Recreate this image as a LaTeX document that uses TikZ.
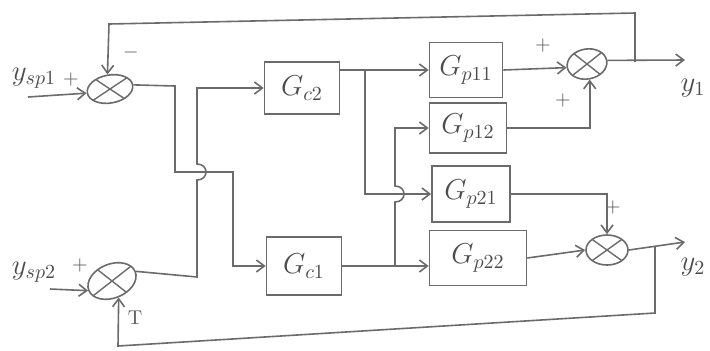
\documentclass[tikz,border=0pt]{standalone}
\usepackage{tikz}
\usetikzlibrary{positioning,arrows.meta,shapes.geometric,calc}

\begin{document}
\begin{tikzpicture}[
  x=0.5pt, y=-0.5pt,
  pen/.style={draw=black!58, line width=0.8pt},
  blk/.style={pen, rectangle, minimum width=37.5pt, minimum height=27pt, inner sep=0pt, font=\Large, text=black!70},
  sumj/.style={pen, ellipse, inner sep=0pt,
    path picture={\draw[black!58, line width=0.7pt]
      (path picture bounding box.north west) -- (path picture bounding box.south east)
      (path picture bounding box.north east) -- (path picture bounding box.south west);}},
  arr/.style={pen, -{Straight Barb[length=4pt, width=6pt]}},
  sgn/.style={font=\normalsize, text=black!65, inner sep=1pt},
  lbl/.style={font=\Large, text=black!70, inner sep=1pt},
]
  \useasboundingbox (0,0) rectangle (710,350);

  % Summing junctions
  \node[sumj, minimum width=23pt, minimum height=14pt, rotate=10] (s1) at (110,89) {};
  \node[sumj, minimum width=25pt, minimum height=17pt, rotate=22] (s2) at (112,281) {};
  \node[sumj, minimum width=20pt, minimum height=15pt, rotate=10] (s3) at (587,64) {};
  \node[sumj, minimum width=21pt, minimum height=15pt] (s4) at (607,250) {};

  % Controllers and plant blocks
  \node[blk, minimum height=26pt] (gc2) at (302,88) {$G_{c2}$};
  \node[blk, minimum height=29pt] (gc1) at (304,266) {$G_{c1}$};
  \node[blk, minimum width=36.5pt, minimum height=27.5pt] (gp11) at (466,70) {$G_{p11}$};
  \node[blk, minimum width=38.5pt, minimum height=25pt] (gp12) at (468,128) {$G_{p12}$};
  \node[blk, minimum width=39pt, minimum height=28pt] (gp21) at (471,194) {$G_{p21}$};
  \node[blk, minimum width=48.5pt, minimum height=27.5pt] (gp22) at (478,258) {$G_{p22}$};

  % Signal names and signs
  \node[lbl] (ysp1) at (34,78) {$y_{sp1}$};
  \node[lbl] (ysp2) at (34,272) {$y_{sp2}$};
  \node[lbl] (y1) at (693,88) {$y_1$};
  \node[lbl] (y2) at (693,267) {$y_2$};
  \node[sgn] (p1) at (71,79) {$+$};
  \node[sgn] (m1) at (131,52) {$-$};
  \node[sgn] (p2) at (80,265) {$+$};
  \node[sgn] (t2) at (135,318) {T};
  \node[sgn] (p3) at (543,45) {$+$};
  \node[sgn] (p4) at (563,100) {$+$};
  \node[sgn] (p5) at (613,207) {$+$};

  \coordinate (in1) at (28,97);
  \coordinate (in2) at (50,289);
  \coordinate (out1) at (685,60);
  \coordinate (out2) at (685,242);
  \coordinate (fb1) at (635,62);
  \coordinate (fb2) at (655,246);

  % Inputs
  \draw[arr] (in1) -- (s1.west);
  \draw[arr] (in2) -- (s2.west);

  % Error signals, crossed over to the controllers
  \draw[arr] (s1.east) -- (175,86) -- (175,172) -- (233,172) -- (233,266) -- (gc1.west);
  \draw[arr] (s2.east) -- (197,277) -- (197,180)
    .. controls (209,180) and (209,164) .. (197,164) -- (197,88) -- (gc2.west);

  % Controller outputs to the plant
  \draw[arr] (gc2.east |- gp11.west) -- (gp11.west);
  \draw[arr] (365,70) |- (gp21.west);
  \draw[arr] (gc1.east) -- (gc1.east -| gp22.west);
  \draw[arr] (395,266) -- (395,202)
    .. controls (407,202) and (407,186) .. (395,186) -- (395,128) -- (gp12.west);

  % Plant outputs
  \draw[arr] (gp11.east) -- (s3.west);
  \draw[arr] (gp12.east) -| (s3.south);
  \draw[arr] (gp21.east) -| (s4.north);
  \draw[arr] (gp22.east) -- (s4.west);
  \draw[arr] (s3.east) -- (out1);
  \draw[arr] (s4.east) -- (out2);

  % Feedback
  \draw[arr] (fb1) -- (635,13) -- (109,24) -- (s1.north);
  \draw[arr] (fb2) -- (655,313) -- (118,346) -- (s2.south);
\end{tikzpicture}
\end{document}
